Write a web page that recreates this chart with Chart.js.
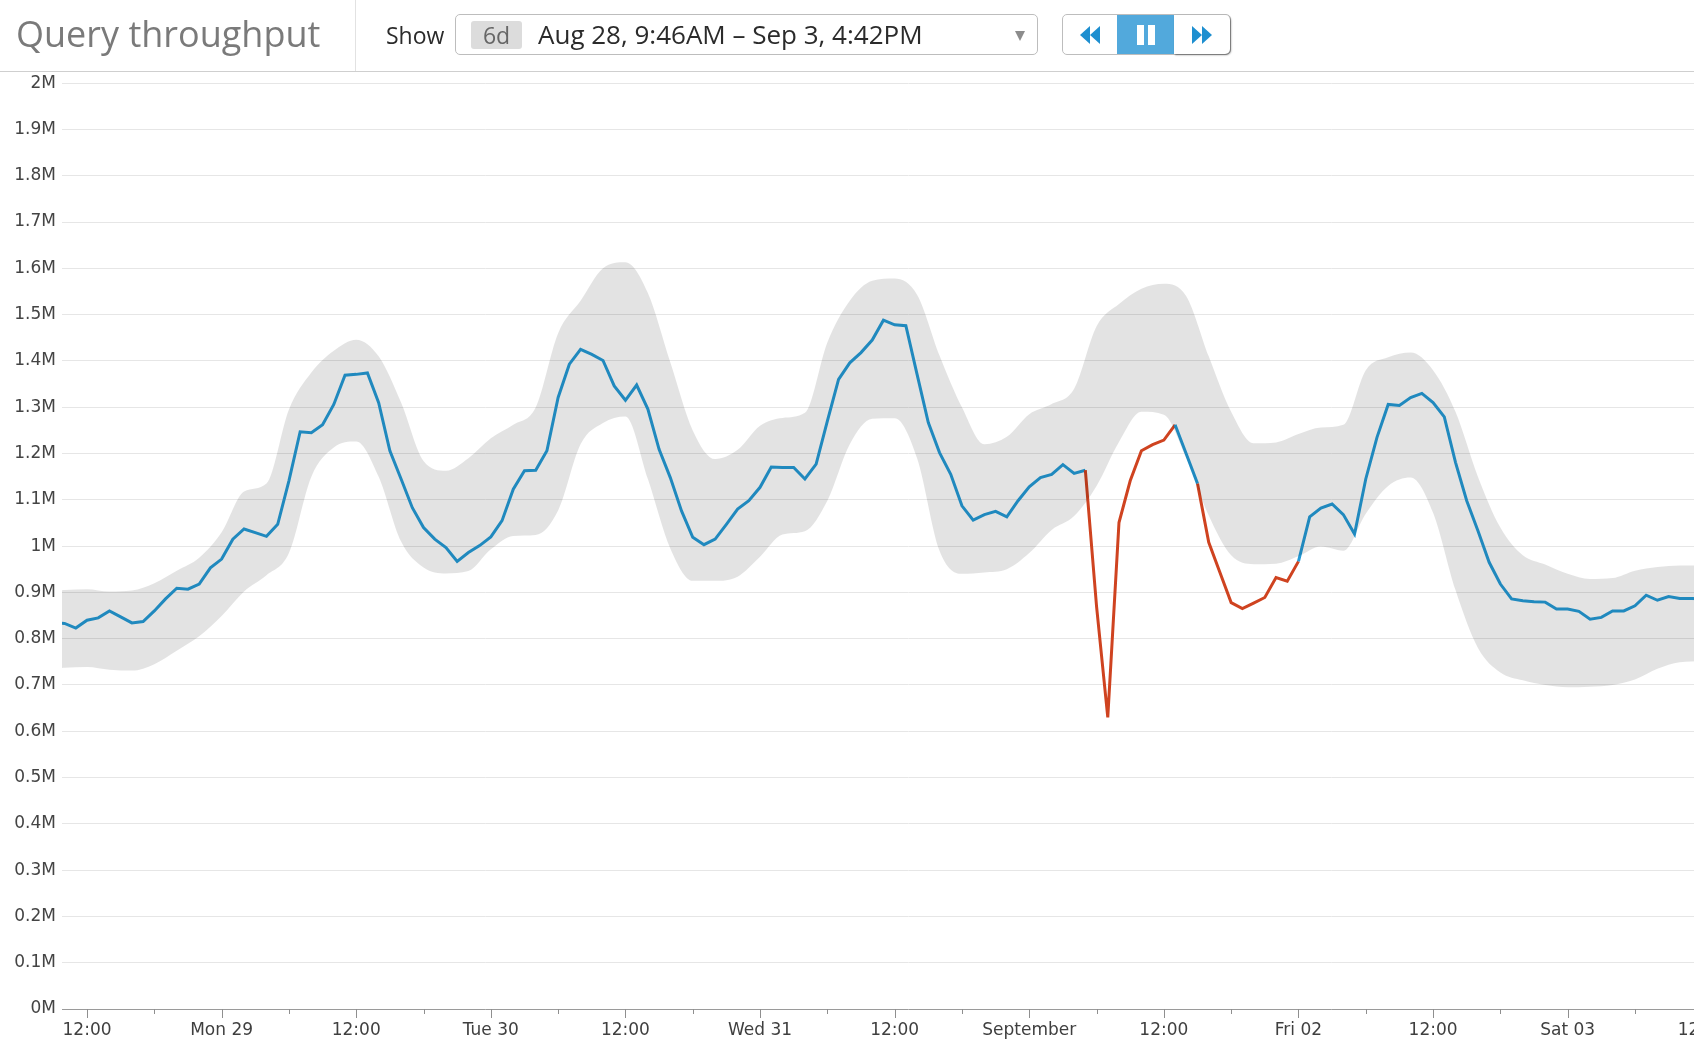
<!DOCTYPE html>
<html>
<head>
<meta charset="utf-8">
<title>Query throughput</title>
<script src="https://cdn.jsdelivr.net/npm/chart.js@4.4.1/dist/chart.umd.min.js"></script>
<style>
  html, body { margin: 0; padding: 0; background: #fff; overflow: hidden; }
  body { width: 1694px; height: 1060px; position: relative; font-family: "Open Sans", sans-serif; }
  #header { position: absolute; left: 0; top: 0; width: 1694px; height: 71px; border-bottom: 1px solid #cfcfcf; z-index: 2; }
  #title { position: absolute; left: 16px; top: 12px; font-size: 36px; font-weight: 400; color: #7a7a7a; line-height: 44px; white-space: nowrap; }
  #sep { position: absolute; left: 355px; top: 0; width: 1px; height: 71px; background: #e2e2e2; }
  #show { position: absolute; left: 386px; top: 19px; font-size: 23px; color: #2b2b2b; line-height: 32px; }
  #range { position: absolute; left: 455px; top: 14px; width: 581px; height: 39px; border: 1px solid #bdbdbd; border-radius: 5px; }
  #pill { position: absolute; left: 15px; top: 6px; width: 51px; height: 28px; background: #dcdcdc; border-radius: 3px; color: #666; font-size: 23px; line-height: 28px; text-align: center; }
  #dates { position: absolute; left: 82px; top: 2px; font-size: 26px; color: #2b2b2b; line-height: 34px; white-space: nowrap; }
  #caret { position: absolute; left: 559px; top: 16px; width: 0; height: 0; border-left: 5px solid transparent; border-right: 5px solid transparent; border-top: 10px solid #8c8c8c; }
  #buttons { position: absolute; left: 1062px; top: 14px; width: 167px; height: 39px; border: 1px solid #bdbdbd; border-radius: 5px; }
  .btn { position: absolute; top: 0; height: 39px; }
  #b1 { left: 0; width: 54px; }
  #b2 { left: 54px; width: 57px; background: #52a9dc; }
  #b3 { left: 111px; width: 56px; border-radius: 0 5px 5px 0; box-shadow: 1px 1px 2px rgba(0,0,0,0.45); }
  .btn svg { position: absolute; left: 50%; top: 50%; transform: translate(-50%, -50%); }
  #chartBox { position: absolute; left: 0; top: 67px; width: 1760px; height: 993px; z-index: 1; }
</style>
</head>
<body>
<div id="header">
  <div id="title">Query throughput</div>
  <div id="sep"></div>
  <div id="show">Show</div>
  <div id="range">
    <div id="pill">6d</div>
    <div id="dates">Aug 28, 9:46AM – Sep 3, 4:42PM</div>
    <div id="caret"></div>
  </div>
  <div id="buttons">
    <div class="btn" id="b1"><svg width="22" height="18" viewBox="0 0 22 18"><polygon points="11,0 11,18 1,9" fill="#1e8fd0"/><polygon points="21,0 21,18 11,9" fill="#1e8fd0"/></svg></div>
    <div class="btn" id="b2"><svg width="20" height="20" viewBox="0 0 20 20"><rect x="1" y="0" width="7" height="20" fill="#fff"/><rect x="12" y="0" width="7" height="20" fill="#fff"/></svg></div>
    <div class="btn" id="b3"><svg width="22" height="18" viewBox="0 0 22 18"><polygon points="1,0 1,18 11,9" fill="#1e8fd0"/><polygon points="11,0 11,18 21,9" fill="#1e8fd0"/></svg></div>
  </div>
</div>
<div id="chartBox"><canvas id="throughputChart"></canvas></div>

<script>
// ======================
// Dados (horas desde 28 ago 00:00, valores em milhões)
// ======================
const startHour = 9.77;   // Aug 28, 9:46AM
const endHour = 160.7;    // Sep 3, 4:42PM

const lineFirstHour = 9;
const throughput = [
  0.835, 0.833, 0.823, 0.840, 0.845, 0.860, 0.847, 0.834, 0.837, 0.860,
  0.886, 0.909, 0.907, 0.918, 0.953, 0.972, 1.015, 1.037, 1.029, 1.021,
  1.047, 1.141, 1.247, 1.245, 1.262, 1.306, 1.369, 1.371, 1.374, 1.310,
  1.206, 1.145, 1.083, 1.040, 1.015, 0.997, 0.967, 0.986, 1.001, 1.020,
  1.055, 1.123, 1.163, 1.164, 1.206, 1.321, 1.393, 1.425, 1.414, 1.401,
  1.346, 1.315, 1.348, 1.296, 1.209, 1.148, 1.076, 1.019, 1.003, 1.015,
  1.047, 1.080, 1.098, 1.127, 1.171, 1.170, 1.170, 1.145, 1.177, 1.270,
  1.360, 1.396, 1.418, 1.445, 1.488, 1.478, 1.476, 1.371, 1.267, 1.202,
  1.155, 1.087, 1.056, 1.068, 1.075, 1.063, 1.098, 1.128, 1.148, 1.155,
  1.176, 1.157, 1.164, 0.870, 0.630, 1.051, 1.141, 1.206, 1.219, 1.229,
  1.262, 1.199, 1.135, 1.008, 0.943, 0.878, 0.865, 0.877, 0.889, 0.932,
  0.924, 0.967, 1.063, 1.082, 1.091, 1.068, 1.026, 1.145, 1.235, 1.306,
  1.304, 1.321, 1.330, 1.310, 1.279, 1.181, 1.098, 1.033, 0.965, 0.918,
  0.886, 0.882, 0.880, 0.879, 0.864, 0.864, 0.859, 0.842, 0.846, 0.860,
  0.860, 0.871, 0.894, 0.883, 0.891, 0.887, 0.887, 0.886, 0.885
];

// faixa esperada, a cada 2 horas
const bandFirstHour = 8;
const bandStep = 2;
const bandUpper = [
  0.903, 0.905, 0.907, 0.902, 0.904, 0.920, 0.947, 0.975, 1.030, 1.118,
  1.135, 1.295, 1.375, 1.422, 1.446, 1.410, 1.310, 1.184, 1.163, 1.190,
  1.233, 1.262, 1.300, 1.460, 1.530, 1.600, 1.613, 1.547, 1.397, 1.250,
  1.188, 1.208, 1.260, 1.277, 1.288, 1.440, 1.530, 1.573, 1.578, 1.543,
  1.412, 1.300, 1.220, 1.236, 1.285, 1.307, 1.340, 1.475, 1.523, 1.556,
  1.567, 1.540, 1.410, 1.290, 1.222, 1.224, 1.242, 1.256, 1.262, 1.380,
  1.408, 1.418, 1.380, 1.290, 1.150, 1.040, 0.980, 0.960, 0.940, 0.929,
  0.931, 0.947, 0.955, 0.958, 0.958, 0.958
];
const bandLower = [
  0.735, 0.737, 0.739, 0.733, 0.731, 0.745, 0.774, 0.805, 0.849, 0.902,
  0.937, 0.985, 1.150, 1.213, 1.226, 1.150, 1.010, 0.954, 0.941, 0.946,
  0.993, 1.022, 1.024, 1.077, 1.220, 1.266, 1.280, 1.145, 0.995, 0.925,
  0.925, 0.934, 0.977, 1.025, 1.032, 1.098, 1.220, 1.275, 1.276, 1.190,
  0.990, 0.940, 0.943, 0.950, 0.985, 1.035, 1.065, 1.130, 1.225, 1.290,
  1.284, 1.190, 1.066, 0.980, 0.961, 0.962, 0.978, 0.999, 0.990, 1.070,
  1.130, 1.148, 1.072, 0.905, 0.780, 0.727, 0.710, 0.700, 0.695, 0.696,
  0.700, 0.712, 0.735, 0.749, 0.751, 0.752
];

// rótulos do eixo X
const tickHours = [12, 24, 36, 48, 60, 72, 84, 96, 108, 120, 132, 144, 156];
const tickLabels = ['12:00', 'Mon 29', '12:00', 'Tue 30', '12:00', 'Wed 31', '12:00',
                    'September', '12:00', 'Fri 02', '12:00', 'Sat 03', '12:00'];

// ======================
// Montagem dos pontos
// ======================
const linePoints = throughput.map((v, i) => ({ x: lineFirstHour + i, y: v }));
const bandHours = bandUpper.map((v, i) => bandFirstHour + i * bandStep);
const upperPoints = bandUpper.map((v, i) => ({ x: bandHours[i], y: v }));
const lowerPoints = bandLower.map((v, i) => ({ x: bandHours[i], y: v }));

function bandAt(arr, h) {
  const pos = (h - bandFirstHour) / bandStep;
  const i = Math.max(0, Math.min(arr.length - 2, Math.floor(pos)));
  const t = pos - i;
  return arr[i] + (arr[i + 1] - arr[i]) * t;
}

const BLUE = '#249ad6';
const RED = '#cf4320';

function segmentColor(ctx) {
  const h = (ctx.p0.parsed.x + ctx.p1.parsed.x) / 2;
  const v = (ctx.p0.parsed.y + ctx.p1.parsed.y) / 2;
  const out = v < bandAt(bandLower, h) || v > bandAt(bandUpper, h);
  return out ? RED : BLUE;
}

// ticks do eixo X (maiores com rótulo, menores a cada 6h)
const xTicksPlugin = {
  id: 'xTicks',
  afterDraw(chart) {
    const xs = chart.scales.x;
    const c = chart.ctx;
    const y0 = chart.chartArea.bottom;
    c.save();
    c.strokeStyle = '#8f8f8f';
    c.lineWidth = 1;
    xs.ticks.forEach(t => {
      const px = Math.round(xs.getPixelForValue(t.value)) + 0.5;
      const major = tickHours.includes(t.value);
      c.beginPath();
      c.moveTo(px, y0);
      c.lineTo(px, y0 + (major ? 9 : 5));
      c.stroke();
    });
    c.restore();
  }
};

Chart.defaults.font.family = '"DejaVu Sans", sans-serif';
Chart.defaults.font.size = 17;
Chart.defaults.color = '#4a4a4a';

const ctx = document.getElementById('throughputChart').getContext('2d');
const chart = new Chart(ctx, {
  type: 'line',
  data: {
    datasets: [
      {
        label: 'lower',
        data: lowerPoints,
        borderWidth: 0,
        borderColor: 'transparent',
        pointRadius: 0,
        cubicInterpolationMode: 'monotone',
        fill: false
      },
      {
        label: 'upper',
        data: upperPoints,
        borderWidth: 0,
        borderColor: 'transparent',
        backgroundColor: 'rgba(0,0,0,0.11)',
        pointRadius: 0,
        cubicInterpolationMode: 'monotone',
        fill: '-1'
      },
      {
        label: 'Query throughput',
        data: linePoints,
        borderWidth: 3,
        borderColor: BLUE,
        pointRadius: 0,
        tension: 0,
        fill: false,
        segment: { borderColor: segmentColor }
      }
    ]
  },
  options: {
    responsive: true,
    maintainAspectRatio: false,
    animation: false,
    layout: { padding: { top: 0, right: 5, left: 0, bottom: 0 } },
    plugins: {
      legend: { display: false },
      tooltip: { enabled: false }
    },
    scales: {
      x: {
        type: 'linear',
        min: startHour,
        max: endHour,
        afterBuildTicks: scale => {
          const t = [];
          for (let h = 12; h <= endHour; h += 6) t.push({ value: h });
          scale.ticks = t;
        },
        afterFit: scale => { scale.height = 51; },
        grid: { display: false, drawTicks: false },
        border: { display: false },
        ticks: {
          padding: 11,
          maxRotation: 0,
          autoSkip: false,
          color: '#3f3f3f',
          callback: v => {
            const i = tickHours.indexOf(v);
            return i >= 0 ? tickLabels[i] : '';
          }
        }
      },
      y: {
        min: 0,
        max: 2,
        afterFit: scale => { scale.width = 62; },
        grid: {
          drawTicks: false,
          color: c => c.tick && c.tick.value === 0 ? '#9a9a9a' : '#e6e6e6'
        },
        border: { display: false },
        ticks: {
          stepSize: 0.1,
          padding: 6,
          color: '#444',
          callback: v => (Math.round(v * 10) / 10) + 'M'
        }
      }
    }
  },
  plugins: [xTicksPlugin]
});
</script>
</body>
</html>
